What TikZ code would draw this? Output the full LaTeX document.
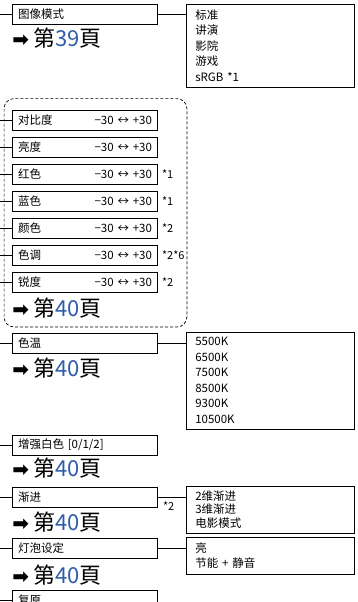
\documentclass[tikz,border=0pt]{standalone}
\usepackage{fontspec}
\setmainfont{Noto Sans CJK SC}
\newfontfamily\symfont{DejaVu Sans}
\usepackage{tikz}
\usetikzlibrary{positioning, calc}
\usepackage{xcolor}
\definecolor{pageblue}{RGB}{46,92,170}
\tikzstyle{menu} = [rectangle, draw=black, line width=0.8pt, text width=134pt, inner xsep=5.5pt, inner ysep=0pt, minimum height=20pt, align=left, font=\fontsize{11.5}{13}\selectfont]
\tikzstyle{choices} = [rectangle, draw=black, line width=0.8pt, text width=150pt, inner xsep=9pt, align=left, font=\fontsize{11.5}{15.5}\selectfont]
\tikzstyle{pagelink} = [inner sep=0pt, font=\fontsize{22}{24}\selectfont]
\tikzstyle{note} = [inner sep=0pt, font=\fontsize{11}{13}\selectfont]
\tikzstyle{link} = [line width=0.8pt]
\tikzstyle{group} = [draw, line width=0.7pt, dash pattern=on 3pt off 2pt, rounded corners=10pt]
\newcommand{\gotopage}[1]{{\symfont\bfseries\fontsize{20}{20}\selectfont ➡}\hspace{4pt}第{\color{pageblue}#1}頁}

\begin{document}
\begin{tikzpicture}[x=1pt, y=-1pt, node distance=6.3pt]
    \useasboundingbox (0,0) rectangle (357,602);
    \coordinate (edge) at (0,0);

    \node (mode) [menu] at (85,14) {图像模式};
    \node (modeopt) [choices, right=28pt of mode.north east, anchor=north west, minimum height=83pt] {标准\\讲演\\影院\\游戏\\sRGB *1};
    \node (p1) [pagelink, below=14pt of mode.south west, anchor=west] {\gotopage{39}};

    \node (contrast) [menu] at (85,120) {对比度\hfill −30 ↔ +30};
    \node (bright) [menu, below=of contrast] {亮度\hfill −30 ↔ +30};
    \node (red) [menu, below=of bright] {红色\hfill −30 ↔ +30};
    \node (blue) [menu, below=of red] {蓝色\hfill −30 ↔ +30};
    \node (color) [menu, below=of blue] {颜色\hfill −30 ↔ +30};
    \node (tint) [menu, below=of color] {色调\hfill −30 ↔ +30};
    \node (sharp) [menu, below=of tint] {锐度\hfill −30 ↔ +30};
    \node (p2) [pagelink, below=15pt of sharp.south west, anchor=west] {\gotopage{40}};
    \node (n1) [note, right=4pt of red] {*1};
    \node (n2) [note, right=4pt of blue] {*1};
    \node (n3) [note, right=4pt of color] {*2};
    \node (n4) [note, right=4pt of tint] {*2*6};
    \node (n5) [note, right=4pt of sharp] {*2};
    \draw [group] ($(contrast.north west)+(-8,-11)$) rectangle ($(sharp.south east)+(29,34)$);

    \node (ctemp) [menu] at (85,343.5) {色温};
    \node (ctempopt) [choices, right=28pt of ctemp.north east, anchor=north west, yshift=1.5pt, minimum height=97pt] {5500K\\6500K\\7500K\\8500K\\9300K\\10500K};
    \node (p3) [pagelink, below=14pt of ctemp.south west, anchor=west] {\gotopage{40}};

    \node (white) [menu] at (85,445) {增强白色 [0/1/2]};
    \node (p4) [pagelink, below=13pt of white.south west, anchor=west] {\gotopage{40}};

    \node (prog) [menu] at (85,497) {渐进};
    \node (progopt) [choices, right=28pt of prog.north east, anchor=north west, yshift=1pt, minimum height=47pt, font=\fontsize{11.5}{13.5}\selectfont] {2维渐进\\3维渐进\\电影模式};
    \node (n6) [note, anchor=west] at ($(prog.east)+(5,9)$) {*2};
    \node (p5) [pagelink, below=15pt of prog.south west, anchor=west] {\gotopage{40}};

    \node (lamp) [menu] at (85,548) {灯泡设定};
    \node (lampopt) [choices, right=28pt of lamp.north east, anchor=north west, yshift=1pt, minimum height=37pt] {亮\\节能 + 静音};
    \node (p6) [pagelink, below=17pt of lamp.south west, anchor=west] {\gotopage{40}};

    \node (reset) [menu] at (85,600) {复原};

    \foreach \m in {mode, contrast, bright, red, blue, color, tint, sharp, ctemp, white, prog, lamp, reset} {
        \draw [link] (edge |- \m.west) -- (\m.west);
    }
    \foreach \a/\b in {mode/modeopt, ctemp/ctempopt, prog/progopt, lamp/lampopt} {
        \draw [link] (\a.east) -- (\a.east -| \b.west);
    }
\end{tikzpicture}
\end{document}
